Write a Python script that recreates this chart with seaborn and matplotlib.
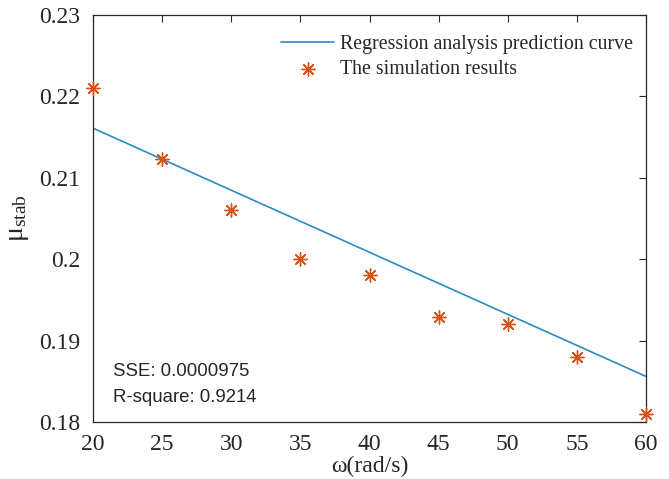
import matplotlib
matplotlib.use("Agg")
import matplotlib.pyplot as plt
import seaborn as sns
import pandas as pd

# Angular speed (rad/s) and simulated stable friction coefficient
omega = [20, 25, 30, 35, 40, 45, 50, 55, 60]
mu_sim = [0.2210, 0.2123, 0.2060, 0.2000, 0.1981, 0.1929, 0.1920, 0.1880, 0.1810]

# Regression prediction curve end points
omega_fit = [20, 60]
mu_fit = [0.2161, 0.1856]

x_ticks = [20, 25, 30, 35, 40, 45, 50, 55, 60]
y_ticks = [0.18, 0.19, 0.20, 0.21, 0.22, 0.23]
y_ticklabels = ["0.18", "0.19", "0.2", "0.21", "0.22", "0.23"]

sns.set_style("white")
plt.rcParams["font.family"] = ["Liberation Serif", "DejaVu Serif"]
plt.rcParams["mathtext.fontset"] = "custom"
plt.rcParams["mathtext.rm"] = "Liberation Serif"
plt.rcParams["mathtext.it"] = "Liberation Serif:italic"

W, H = 669, 479
fig = plt.figure(figsize=(W / 100, H / 100), dpi=100)
ax = fig.add_axes([93 / W, (H - 422) / H, (646 - 93) / W, (422 - 15) / H])

sim = pd.DataFrame({"omega": omega, "mu": mu_sim})
fit = pd.DataFrame({"omega": omega_fit, "mu": mu_fit})

sns.lineplot(data=fit, x="omega", y="mu", ax=ax, color="#2b8cbe", linewidth=1.2,
             label="Regression analysis prediction curve")
sns.scatterplot(data=sim, x="omega", y="mu", ax=ax, marker=(8, 2, 0), s=90,
                color="#d95319", edgecolor="#d95319", linewidth=1.0,
                label="The simulation results", clip_on=False, zorder=3)

ax.set_xlim(20, 60)
ax.set_ylim(0.18, 0.23)
ax.set_xticks(x_ticks)
ax.set_xticklabels([str(t) for t in x_ticks])
ax.set_yticks(y_ticks)
ax.set_yticklabels(y_ticklabels)
ax.tick_params(direction="in", length=5, width=0.8, colors="#262626",
               labelsize=17, top=True, right=True)
ax.tick_params(axis="x", pad=9)
ax.tick_params(axis="y", pad=9)
for sp in ax.spines.values():
    sp.set_visible(True)
    sp.set_color("#262626")
    sp.set_linewidth(0.9)

ax.set_xlabel("ω(rad/s)", fontsize=17, labelpad=0, color="#262626")
ax.set_ylabel(r"$\mathrm{μ}_{\mathrm{stab}}$", fontsize=20, labelpad=6, color="#262626")

leg = ax.legend(loc="upper right", bbox_to_anchor=(0.977, 0.95), frameon=False,
                fontsize=14.3, handlelength=2.7, borderaxespad=0, borderpad=0,
                labelspacing=0.3, handletextpad=0.3)
for t in leg.get_texts():
    t.set_color("#262626")

sans = ["Liberation Sans", "DejaVu Sans"]
ax.text(0.036, (422 - 376) / 407, "SSE: 0.0000975", transform=ax.transAxes,
        fontsize=13.4, family=sans, color="#262626", va="baseline", ha="left")
ax.text(0.036, (422 - 402) / 407, "R-square: 0.9214", transform=ax.transAxes,
        fontsize=13.4, family=sans, color="#262626", va="baseline", ha="left")

fig.savefig("out.png", dpi=100)
